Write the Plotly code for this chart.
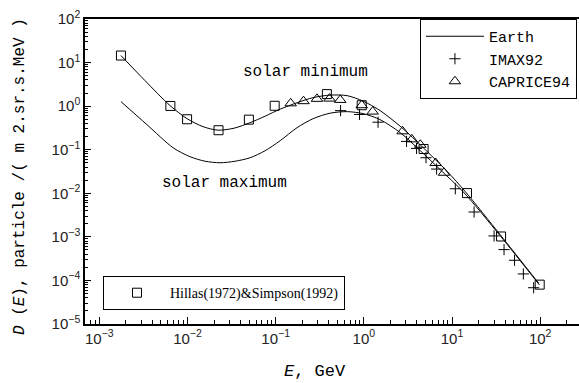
import plotly.graph_objects as go

# ---- data ----
# Solar minimum curve (Earth)
min_E = [1.76e-3, 3.30e-3, 6.34e-3, 9.89e-3, 0.01502, 0.0222, 0.0338, 0.0514, 0.0760, 0.1125,
         0.1754, 0.266, 0.415, 0.647, 0.984, 1.53, 2.70, 4.72, 8.77, 14.2, 35.3, 96.2]
min_D = [14.5, 3.85, 1.03, 0.516, 0.338, 0.281, 0.312, 0.418, 0.589, 0.853,
         1.20, 1.57, 1.79, 1.74, 1.30, 0.789, 0.321, 0.111, 0.0321, 0.0108, 1.11e-3, 8.6e-5]
# Solar maximum curve (Earth)
max_E = [1.76e-3, 3.47e-3, 6.87e-3, 0.01072, 0.01585, 0.0234, 0.0347, 0.0514, 0.0760, 0.1125,
         0.175, 0.266, 0.415, 0.647, 0.984, 1.53, 2.59, 4.37, 7.36, 13.4, 35.3, 97.9]
max_D = [1.27, 0.376, 0.111, 0.0690, 0.0544, 0.0502, 0.0544, 0.0655, 0.0948, 0.161,
         0.321, 0.516, 0.690, 0.748, 0.673, 0.490, 0.246, 0.0948, 0.0347, 0.0108, 1.05e-3, 7.9e-5]
# IMAX92
imax_E = [0.545, 0.894, 1.45, 3.05, 3.96, 5.07, 6.69, 10.9, 17.8, 30.0, 38.9, 51.2, 64.4, 84.3]
imax_D = [0.789, 0.644, 0.428, 0.155, 0.107, 0.0655, 0.036, 0.0127, 3.72e-3, 1.05e-3,
          5.1e-4, 2.9e-4, 1.41e-4, 6.8e-5]
# CAPRICE94
cap_E = [0.148, 0.207, 0.294, 0.408, 0.540, 0.946, 1.26, 2.75, 3.50, 4.37, 6.52, 8.11]
cap_D = [1.16, 1.30, 1.47, 1.49, 1.39, 1.05, 0.75, 0.264, 0.173, 0.130, 0.0494, 0.0296]
# Hillas(1972) & Simpson(1992)
hs_E = [1.76e-3, 6.4e-3, 9.9e-3, 0.0225, 0.0497, 0.0975, 0.381, 0.946, 4.76, 14.8, 36.0, 98.7]
hs_D = [14.5, 1.01, 0.50, 0.28, 0.49, 1.02, 1.89, 1.05, 0.104, 0.0101, 1.02e-3, 8.0e-5]

x_tickvals = [1e-3, 1e-2, 1e-1, 1e0, 1e1, 1e2]
x_ticktext = ["10<sup>−3</sup>", "10<sup>−2</sup>", "10<sup>−1</sup>", "10<sup>0</sup>",
              "10<sup>1</sup>", "10<sup>2</sup>"]
y_tickvals = [1e-5, 1e-4, 1e-3, 1e-2, 1e-1, 1e0, 1e1, 1e2]
y_ticktext = ["10<sup>−5</sup>", "10<sup>−4</sup>", "10<sup>−3</sup>", "10<sup>−2</sup>",
              "10<sup>−1</sup>", "10<sup>0</sup>", "10<sup>1</sup>", "10<sup>2</sup>"]

MONO = "Liberation Mono"
SERIF = "Liberation Serif"

fig = go.Figure()
fig.add_trace(go.Scatter(x=min_E, y=min_D, mode="lines", name="Earth",
                         line=dict(color="black", width=1, shape="spline", smoothing=0.8),
                         legend="legend", showlegend=True))
fig.add_trace(go.Scatter(x=max_E, y=max_D, mode="lines", name="Earth",
                         line=dict(color="black", width=1, shape="spline", smoothing=0.8),
                         legend="legend", showlegend=False))
fig.add_trace(go.Scatter(x=imax_E, y=imax_D, mode="markers", name="IMAX92",
                         marker=dict(symbol="cross-thin", size=8,
                                     line=dict(color="black", width=1)),
                         legend="legend"))
fig.add_trace(go.Scatter(x=cap_E, y=cap_D, mode="markers", name="CAPRICE94",
                         marker=dict(symbol="triangle-up-open", size=10, color="black",
                                     line=dict(color="black", width=1)),
                         legend="legend"))
fig.add_trace(go.Scatter(x=hs_E, y=hs_D, mode="markers", name="Hillas(1972)&Simpson(1992)",
                         marker=dict(symbol="square-open", size=9, color="black",
                                     line=dict(color="black", width=1)),
                         legend="legend2"))

def minor_vals(lo, hi):
    vals = []
    for e in range(lo, hi):
        for m in range(2, 10):
            vals.append(m * 10.0 ** e)
    return vals

fig.update_layout(
    width=579, height=383,
    margin=dict(l=85, r=0, t=19, b=59),
    paper_bgcolor="white", plot_bgcolor="white",
    hovermode=False,
    xaxis=dict(type="log", range=[-3.162, 2.44], showgrid=False, zeroline=False,
               automargin=False,
               showline=True, linecolor="black", linewidth=1.5, mirror=True,
               ticks="inside", ticklen=7, tickwidth=1, tickcolor="black",
               tickmode="array", tickvals=x_tickvals, ticktext=x_ticktext,
               tickfont=dict(family="Liberation Sans", size=15, color="#222"),
               minor=dict(tickmode="array", tickvals=minor_vals(-4, 3), ticks="inside",
                          ticklen=4, tickcolor="black", tickwidth=1, showgrid=False)),
    yaxis=dict(type="log", range=[-5, 2], showgrid=False, zeroline=False,
               automargin=False,
               showline=True, linecolor="black", linewidth=1.5, mirror=False,
               ticks="inside", ticklen=6, tickwidth=1, tickcolor="black",
               tickmode="array", tickvals=y_tickvals, ticktext=y_ticktext,
               tickfont=dict(family="Liberation Sans", size=15, color="#222"),
               minor=dict(tickmode="array", tickvals=minor_vals(-5, 2), ticks="inside",
                          ticklen=3, tickcolor="black", tickwidth=1, showgrid=False)),
    legend=dict(x=0.678, y=1.0, xanchor="left", yanchor="top",
                bgcolor="white", bordercolor="black", borderwidth=1,
                font=dict(family=MONO, size=15, color="black"),
                itemwidth=58, tracegroupgap=0),
    legend2=dict(x=0.0364, y=0.157, xanchor="left", yanchor="top",
                 bgcolor="white", bordercolor="black", borderwidth=1,
                 font=dict(family=SERIF, size=14, color="black"),
                 itemwidth=56),
    showlegend=True,
    annotations=[
        dict(text="solar minimum", x=-0.665, y=0.793, xref="x", yref="y",
             showarrow=False, font=dict(family=MONO, size=16, color="black")),
        dict(text="solar maximum", x=-1.585, y=-1.759, xref="x", yref="y",
             showarrow=False, font=dict(family=MONO, size=16, color="black")),
        dict(text="<i>E</i>, GeV", x=0.466, y=-0.157, xref="paper", yref="paper",
             xanchor="center", yanchor="middle", showarrow=False,
             font=dict(family=MONO, size=17, color="black")),
        dict(text="<i>D</i> (<i>E</i>), particle /( m 2.sr.s.MeV )", x=-0.1316, y=0.485,
             xref="paper", yref="paper", textangle=-90, xanchor="center", yanchor="middle",
             showarrow=False, font=dict(family=MONO, size=16, color="black")),
    ],
)

fig.write_html("out.html", config={"displayModeBar": False},
               post_script="document.body.style.margin='0';document.body.style.padding='0';")
